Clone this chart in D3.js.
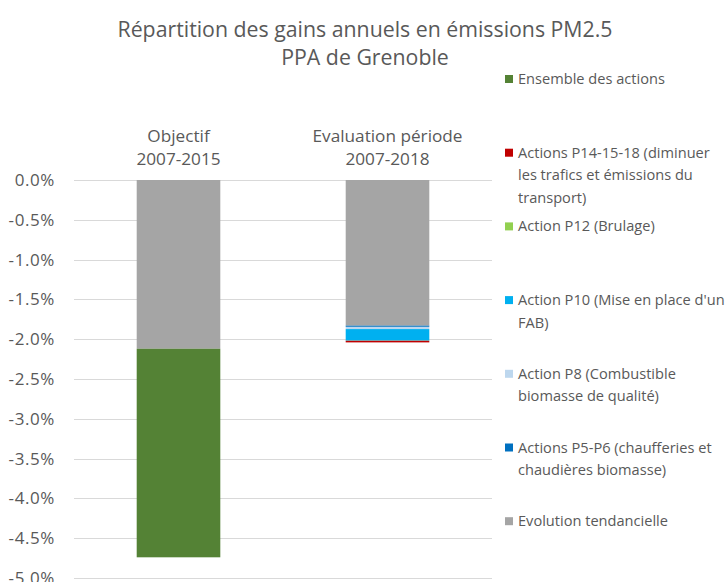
<!DOCTYPE html>
<html>
<head>
<meta charset="utf-8">
<script src="https://cdn.jsdelivr.net/npm/d3@7"></script>
<style>
  html, body { margin: 0; padding: 0; background: #fff; }
  svg { display: block; font-family: "Open Sans", Lato, sans-serif; }
</style>
</head>
<body>
<svg id="chart" width="725" height="582"></svg>
<script>
// Categories (two stacked columns)
const categories = ["Objectif\n2007-2015", "Evaluation période\n2007-2018"];

// Series, stacked from the top (0 %) downward
const seriesNames = [
  "Evolution tendancielle",
  "Actions P5-P6 (chaufferies et chaudières biomasse)",
  "Action P8 (Combustible biomasse de qualité)",
  "Action P10 (Mise en place d'un FAB)",
  "Action P12 (Brulage)",
  "Actions P14-15-18 (diminuer les trafics et émissions du transport)",
  "Ensemble des actions"
];
const seriesColors = ["#A5A5A5", "#0070C0", "#BDD7EE", "#00B0F0", "#92D050", "#C00000", "#548235"];

// Values in % (one value per category)
const evolutionTendancielle = [-2.12, -1.83];
const actionsP5P6          = [0, -0.015];
const actionP8             = [0, -0.028];
const actionP10            = [0, -0.145];
const actionP12            = [0, -0.002];
const actionsP14_15_18     = [0, -0.02];
const ensembleDesActions   = [-2.62, 0];

const seriesValues = [evolutionTendancielle, actionsP5P6, actionP8, actionP10, actionP12, actionsP14_15_18, ensembleDesActions];

// Legend labels, wrapped as shown
const legendLines = [
  ["Ensemble des actions"],
  ["Actions P14-15-18 (diminuer", "les trafics et émissions du", "transport)"],
  ["Action P12 (Brulage)"],
  ["Action P10 (Mise en place d'un", "FAB)"],
  ["Action P8 (Combustible", "biomasse de qualité)"],
  ["Actions P5-P6 (chaufferies et", "chaudières biomasse)"],
  ["Evolution tendancielle"]
];
const legendColors = ["#548235", "#C00000", "#92D050", "#00B0F0", "#BDD7EE", "#0070C0", "#A5A5A5"];

const yTicks = [0, -0.5, -1, -1.5, -2, -2.5, -3, -3.5, -4, -4.5, -5];

const titleLines = ["Répartition des gains annuels en émissions PM2.5", "PPA de Grenoble"];

const textColor = "#595959";
const svg = d3.select("#chart");

const plot = { left: 74, right: 492, top: 180, bottom: 578 };

const y = d3.scaleLinear().domain([0, -5]).range([plot.top, plot.bottom]);
const x = d3.scaleBand().domain(categories).range([plot.left, plot.right]).padding(0);
const barW = x.bandwidth() * 0.4;

// Title
svg.append("g").selectAll("text").data(titleLines).join("text")
  .attr("x", 365).attr("y", (d, i) => 37 + i * 27.5)
  .attr("text-anchor", "middle")
  .attr("font-size", 21.3).attr("fill", textColor)
  .text(d => d);

// Gridlines
svg.append("g").selectAll("line").data(yTicks).join("line")
  .attr("x1", plot.left).attr("x2", plot.right)
  .attr("y1", d => Math.round(y(d)) + 0.5).attr("y2", d => Math.round(y(d)) + 0.5)
  .attr("stroke", "#D9D9D9").attr("stroke-width", 1);

// Y axis labels
const yAxis = d3.axisLeft(y).tickValues(yTicks).tickSize(0).tickPadding(0)
  .tickFormat(d => d3.format(".1f")(d).replace("−", "-") + "%");
const ya = svg.append("g").attr("transform", `translate(55,0)`).call(yAxis);
ya.select(".domain").remove();
ya.selectAll("text").attr("font-size", 17).attr("fill", textColor)
  .attr("letter-spacing", 0.6)
  .attr("font-family", "'Open Sans', Lato, sans-serif");

// Stacked bars
const rows = categories.map((c, ci) => {
  const r = { cat: c };
  seriesNames.forEach((s, si) => r[s] = seriesValues[si][ci]);
  return r;
});
const stack = d3.stack().keys(seriesNames).offset(d3.stackOffsetDiverging);
const stacked = stack(rows);

svg.append("g").selectAll("g").data(stacked).join("g")
  .attr("fill", (d, i) => seriesColors[i])
  .selectAll("rect").data(d => d.map(p => ({ p, cat: p.data.cat }))).join("rect")
  .attr("x", d => x(d.cat) + (x.bandwidth() - barW) / 2)
  .attr("width", barW)
  .attr("y", d => y(Math.max(d.p[0], d.p[1])))
  .attr("height", d => Math.abs(y(d.p[0]) - y(d.p[1])));

// Category labels above the columns
const cat = svg.append("g").selectAll("text").data(categories).join("text")
  .attr("x", d => x(d) + x.bandwidth() / 2)
  .attr("text-anchor", "middle")
  .attr("font-size", 17.2).attr("fill", textColor);
cat.selectAll("tspan").data(d => d.split("\n").map(t => ({ t, c: d }))).join("tspan")
  .attr("x", d => x(d.c) + x.bandwidth() / 2)
  .attr("y", (d, i) => 142 + i * 23)
  .text(d => d.t);

// Legend
const leg = svg.append("g").selectAll("g").data(legendLines).join("g")
  .attr("transform", (d, i) => `translate(505, ${79 + i * 73.7})`);
leg.append("rect").attr("x", 0).attr("y", -4).attr("width", 8).attr("height", 8)
  .attr("fill", (d, i) => legendColors[i]);
leg.append("text").attr("font-size", 14.6).attr("fill", textColor)
  .selectAll("tspan").data(d => d).join("tspan")
  .attr("x", 13).attr("y", (d, i) => 5 + i * 22.5)
  .text(d => d);
</script>
</body>
</html>
